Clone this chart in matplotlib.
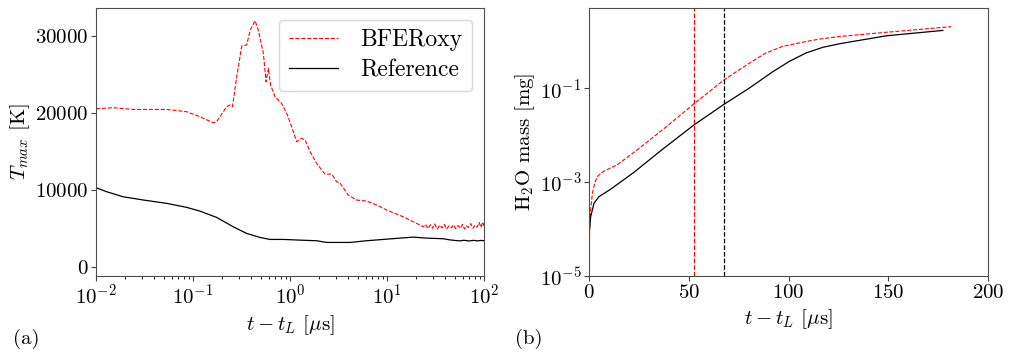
import matplotlib
matplotlib.use("Agg")
import matplotlib.pyplot as plt

plt.rcParams['font.family'] = 'serif'
plt.rcParams['font.serif'] = ['cmr10']
plt.rcParams['mathtext.fontset'] = 'cm'
plt.rcParams['axes.unicode_minus'] = False
plt.rcParams['axes.formatter.use_mathtext'] = True

# (a) maximum temperature vs time
t_oxy = [0.01, 0.0151, 0.0243, 0.0537, 0.0861, 0.1175, 0.162, 0.175, 0.222, 0.24,
         0.255, 0.282, 0.318, 0.357, 0.389, 0.436, 0.471, 0.531, 0.566, 0.598,
         0.631, 0.70, 0.82, 0.925, 1.04, 1.17, 1.32, 1.43, 1.61, 1.88,
         2.29, 2.69, 3.02, 3.27, 3.98, 4.86, 6.17, 7.82, 9.93, 12.0,
         15.3, 18.6, 20.9, 23.7, 25.0, 26.5, 28.0, 29.5, 31.0, 33.0,
         35.0, 37.0, 39.0, 41.0, 43.5, 46.0, 48.5, 51.0, 54.0, 57.0,
         60.0, 63.0, 66.0, 69.0, 73.0, 77.0, 81.0, 85.0, 89.0, 93.0,
         96.5, 100.0]
T_oxy = [20520, 20650, 20430, 20430, 20130, 19480, 18700, 18830, 20780, 21000,
         20780, 24680, 28660, 28790, 30740, 31950, 30740, 27700, 24030, 25760,
         23590, 22080, 21210, 19910, 18180, 16230, 16670, 16450, 14940, 13420,
         12030, 12030, 11040, 10900, 9310, 8660, 8530, 8010, 7360, 6930,
         6400, 5840, 5540, 5190, 5500, 4950, 5450, 5000, 5550, 4900,
         5400, 5050, 5500, 4900, 5300, 5050, 5450, 4950, 5350, 5000,
         5500, 4900, 5300, 5100, 5600, 5000, 5400, 5150, 5750, 5100,
         5800, 5300]

t_ref = [0.01, 0.0129, 0.019, 0.031, 0.0537, 0.0861, 0.1175, 0.175, 0.26, 0.357,
         0.49, 0.62, 0.85, 1.26, 1.88, 2.39, 4.17, 6.17, 9.12, 13.6,
         18.6, 25.7, 38.0, 44.0, 50.0, 56.0, 62.0, 70.0, 78.0, 86.0, 93.0, 100.0]
T_ref = [10260, 9740, 9090, 8660, 8230, 7710, 7230, 6410, 5190, 4330,
         3810, 3550, 3550, 3460, 3380, 3160, 3160, 3380, 3550, 3720,
         3850, 3720, 3640, 3500, 3420, 3360, 3440, 3350, 3430, 3360, 3420, 3380]

# (b) H2O mass vs time
tm_oxy = [0, 0.3, 0.8, 1.7, 3.0, 4.5, 7.0, 14.2, 24.3, 38.5, 52.7,
          67.8, 80.3, 88.7, 97.1, 108.8, 115.5, 125.5, 149.0, 181.6]
logm_oxy = [-5, -4.0, -3.6, -3.24, -3.0, -2.87, -2.78, -2.63, -2.31, -1.83, -1.33,
            -0.82, -0.47, -0.25, -0.11, -0.006, 0.045, 0.10, 0.19, 0.31]
tm_ref = [0, 0.1, 0.83, 2.5, 5.0, 10.9, 22.6, 36.0, 52.7, 67.8, 80.3, 92.1,
          100.4, 108.8, 117.2, 125.5, 132.2, 149.0, 177.4]
logm_ref = [-5, -4.09, -3.74, -3.45, -3.31, -3.15, -2.79, -2.33, -1.78, -1.34, -1.0,
            -0.65, -0.43, -0.25, -0.13, -0.055, -0.006, 0.115, 0.23]
m_oxy = [10 ** v for v in logm_oxy]
m_ref = [10 ** v for v in logm_ref]
vline_oxy = 52.8
vline_ref = 67.8

fig = plt.figure(figsize=(10.15, 3.55), dpi=100)
ax1 = fig.add_axes([0.0946, 0.2225, 0.3823, 0.755])
ax2 = fig.add_axes([0.5803, 0.2225, 0.3931, 0.755])

fs = 15
ax1.plot(t_oxy, T_oxy, color='red', ls='--', lw=0.8, label='BFERoxy')
ax1.plot(t_ref, T_ref, color='black', ls='-', lw=0.9, label='Reference')
ax1.set_xscale('log')
ax1.set_xlim(0.01, 100)
ax1.set_ylim(-1200, 33600)
ax1.set_yticks([0, 10000, 20000, 30000])
ax1.set_xlabel(r'$t - t_L$ [$\mu$s]', fontsize=fs)
ax1.set_ylabel(r'$T_{max}$ [K]', fontsize=fs, labelpad=2)
ax1.legend(loc='upper right', fontsize=17, handlelength=2.1, handletextpad=0.95,
           borderpad=0.4, labelspacing=0.35)

ax2.plot(tm_oxy, m_oxy, color='red', ls='--', lw=0.8)
ax2.plot(tm_ref, m_ref, color='black', ls='-', lw=0.9)
ax2.axvline(vline_oxy, color='red', ls='--', lw=0.9)
ax2.axvline(vline_ref, color='black', ls='--', lw=0.9)
ax2.set_yscale('log')
ax2.set_xlim(0, 200)
ax2.set_ylim(1e-5, 5.1)
ax2.set_yticks([1e-5, 1e-3, 1e-1])
ax2.minorticks_off()
ax2.set_xlabel(r'$t - t_L$ [$\mu$s]', fontsize=fs)
ax2.set_ylabel(r'H$_2$O mass [mg]', fontsize=fs, labelpad=2)

for ax in (ax1, ax2):
    ax.tick_params(labelsize=fs, colors='0.25', labelcolor='black', pad=2)
    for s in ax.spines.values():
        s.set_color('0.3')

fig.text(0.013, 0.03, '(a)', fontsize=fs)
fig.text(0.507, 0.03, '(b)', fontsize=fs)

plt.savefig("out.png", dpi=100)
